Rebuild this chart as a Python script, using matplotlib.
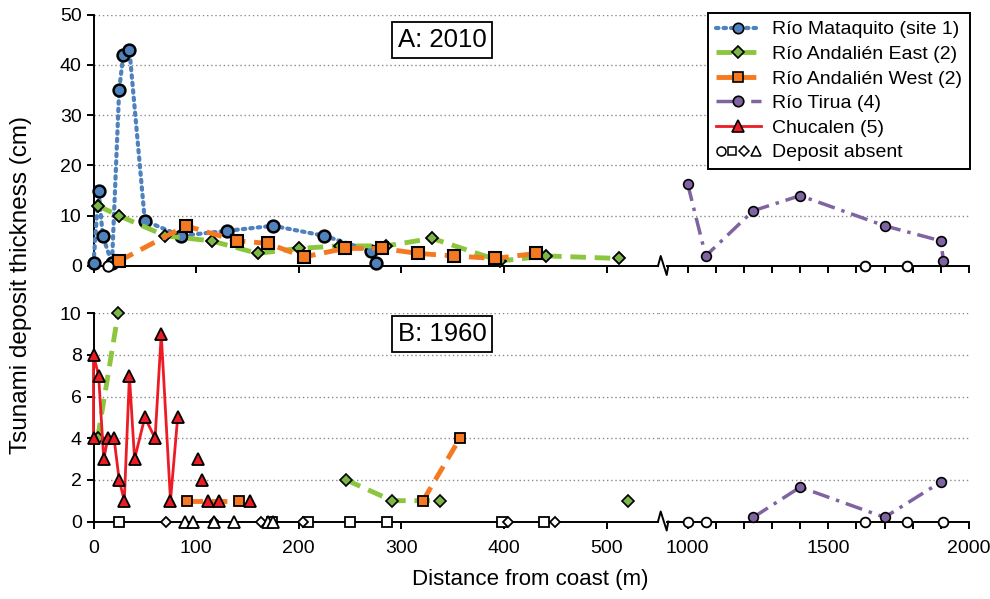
import matplotlib
matplotlib.use("Agg")
import matplotlib.pyplot as plt
from matplotlib.lines import Line2D
from matplotlib.legend_handler import HandlerTuple

plt.rcParams["font.family"] = ["Liberation Sans", "DejaVu Sans"]

# ---- 2010 (panel A) ----
mat_x = [0, 5, 9, 18, 25, 29, 35, 50, 85, 130, 175, 225, 270, 275]
mat_y = [0.5, 15, 6, 0.5, 35, 42, 43, 9, 6, 7, 8, 6, 3, 0.5]
east10_x = [4, 25, 70, 115, 160, 200, 240, 285, 330, 396, 441, 512]
east10_y = [12, 10, 6, 5, 2.5, 3.5, 4, 4, 5.5, 1, 2, 1.5]
west10_x = [25, 90, 140, 170, 205, 245, 281, 316, 351, 391, 431]
west10_y = [1, 8, 5, 4.5, 1.8, 3.5, 3.5, 2.5, 2, 1.5, 2.5]
tirua10_x = [1000, 1064, 1233, 1400, 1700, 1900, 1909]
tirua10_y = [16.3, 2, 11, 14, 8, 5, 1]
absent10_circ_left = [14]
absent10_circ_right = [1630, 1778]

# ---- 1960 (panel B) ----
chuc_x = [0, 0, 5, 10, 14, 20, 25, 30, 35, 40, 50, 60, 66, 75, 82]
chuc_y = [4, 8, 7, 3, 4, 4, 2, 1, 7, 3, 5, 4, 9, 1, 5]
chuc_pts_x = [102, 106, 112, 122, 152]
chuc_pts_y = [3, 2, 1, 1, 1]
east60_a_x, east60_a_y = [4, 24], [4, 10]
east60_b_x, east60_b_y = [246, 291, 338], [2, 1, 1]
east60_c_x, east60_c_y = [521], [1]
west60_a_x, west60_a_y = [91, 142], [1, 1]
west60_b_x, west60_b_y = [321, 357], [1, 4]
tirua60_x = [1233, 1400, 1700, 1900]
tirua60_y = [0.2, 1.65, 0.2, 1.9]
absent60_sq = [25, 174, 209, 250, 286, 398, 439]
absent60_dia = [71, 117, 163, 204, 404, 450]
absent60_tri = [89, 97, 117, 137, 170, 175]
absent60_circ_right = [1000, 1064, 1630, 1778, 1907]

BLUE = "#4F81BD"
GREEN_L = "#8CC63F"
GREEN_M = "#7AB648"
ORANGE = "#F47920"
PURPLE = "#8064A2"
RED = "#ED1C24"

W, H = 990, 599
fig = plt.figure(figsize=(W / 100, H / 100), dpi=100)


def fx(px):
    return px / W


def fy(py):
    return 1 - py / H


X0, XB, X1 = 93.5, 658.0, 969.0
panels = {"A": (14.7, 266.0), "B": (313.3, 521.5)}
axes = {}
for key, (top, bot) in panels.items():
    axl = fig.add_axes([fx(X0), fy(bot), fx(XB) - fx(X0), fy(top) - fy(bot)])
    axr = fig.add_axes([fx(XB), fy(bot), fx(X1) - fx(XB), fy(top) - fy(bot)])
    axes[key] = (axl, axr)

axA, axAr = axes["A"]
axB, axBr = axes["B"]

dotted_line = dict(ls=(0, (0.6, 1.2)), lw=3, dash_capstyle="round")
dash_line = dict(ls=(0, (3.2, 1.8)), lw=3.5)
dashdot_line = dict(ls=(0, (5, 2, 1, 2)), lw=2.5)
kw = dict(clip_on=False, zorder=3)

# panel A
axA.plot(mat_x, mat_y, color=BLUE, marker="o", ms=8.5, mfc=BLUE, mec="black",
         mew=1.8, **dotted_line, **kw)
axA.plot(east10_x, east10_y, color=GREEN_L, marker="D", ms=6.5, mfc=GREEN_M,
         mec="black", mew=1.3, **dash_line, **kw)
axA.plot(west10_x, west10_y, color=ORANGE, marker="s", ms=8, mfc=ORANGE,
         mec="black", mew=1.5, **dash_line, **kw)
axA.plot(absent10_circ_left, [0] * len(absent10_circ_left), ls="none", marker="o",
         ms=7.5, mfc="white", mec="black", mew=1.4, **kw)
axAr.plot(tirua10_x, tirua10_y, color=PURPLE, marker="o", ms=7, mfc=PURPLE,
          mec="black", mew=1.2, **dashdot_line, **kw)
axAr.plot(absent10_circ_right, [0] * len(absent10_circ_right), ls="none",
          marker="o", ms=7, mfc="white", mec="black", mew=1.4, **kw)

# panel B
axB.plot(east60_a_x, east60_a_y, color=GREEN_L, marker="D", ms=6, mfc=GREEN_M,
         mec="black", mew=1.2, **dash_line, **kw)
axB.plot(east60_b_x, east60_b_y, color=GREEN_L, marker="D", ms=6, mfc=GREEN_M,
         mec="black", mew=1.2, **dash_line, **kw)
axB.plot(east60_c_x, east60_c_y, ls="none", marker="D", ms=6, mfc=GREEN_M,
         mec="black", mew=1.2, **kw)
axB.plot(west60_a_x, west60_a_y, color=ORANGE, marker="s", ms=7, mfc=ORANGE,
         mec="black", mew=1.3, **dash_line, **kw)
axB.plot(west60_b_x, west60_b_y, color=ORANGE, marker="s", ms=7, mfc=ORANGE,
         mec="black", mew=1.3, **dash_line, **kw)
axB.plot(chuc_x, chuc_y, color=RED, lw=2, marker="^", ms=9, mfc=RED,
         mec="black", mew=1.3, **kw)
axB.plot(chuc_pts_x, chuc_pts_y, ls="none", marker="^", ms=9, mfc=RED,
         mec="black", mew=1.3, **kw)
absent = dict(ls="none", mfc="white", mec="black", mew=1.3, clip_on=False, zorder=4)
axB.plot(absent60_sq, [0] * len(absent60_sq), marker="s", ms=7, **absent)
axB.plot(absent60_dia, [0] * len(absent60_dia), marker="D", ms=5.5, **absent)
axB.plot(absent60_tri, [0] * len(absent60_tri), marker="^", ms=8, **absent)
axBr.plot(tirua60_x, tirua60_y, color=PURPLE, marker="o", ms=7, mfc=PURPLE,
          mec="black", mew=1.2, **dashdot_line, **kw)
axBr.plot(absent60_circ_right, [0] * len(absent60_circ_right), marker="o", ms=7,
          **absent)

# axes styling
x_left_max = (XB - X0) / 1.0264
x_right_min = 2000 - (X1 - XB) / 0.2813
for key, ylim, ystep in (("A", 50, 10), ("B", 10, 2)):
    axl, axr = axes[key]
    for ax in (axl, axr):
        ax.set_ylim(0, ylim)
        ax.set_yticks(range(0, ylim + 1, ystep))
        ax.yaxis.grid(True, ls=(0, (1, 2)), color="#8a8a8a", lw=1)
        ax.set_axisbelow(True)
        for s in ("top", "right"):
            ax.spines[s].set_visible(False)
        ax.spines["bottom"].set_linewidth(1.4)
        ax.spines["left"].set_linewidth(1.4)
        ax.tick_params(axis="both", which="both", direction="out", length=5,
                       width=1.4, labelsize=14, colors="black")
        ax.patch.set_alpha(0)
    axl.set_xlim(0, x_left_max)
    axl.set_xticks(range(0, 501, 100))
    axr.set_xlim(x_right_min, 2000)
    axr.spines["bottom"].set_bounds(927, 2000)
    axr.spines["left"].set_visible(False)
    axr.tick_params(axis="y", left=False, labelleft=False)
    axr.set_xticks([1000, 1500, 2000])
    axr.set_xticks(range(1100, 2000, 100), minor=True)
    if key == "A":
        axl.tick_params(axis="x", labelbottom=False)
        axr.tick_params(axis="x", labelbottom=False)
    else:
        axl.tick_params(axis="x", pad=8)
        axr.tick_params(axis="x", pad=8)

# break symbols on the x axes
for key, (top, bot) in panels.items():
    zx = [658.0, 660.7, 666.7, 668.3]
    zy = [bot, bot - 10, bot + 9, bot]
    fig.add_artist(Line2D([fx(v) for v in zx], [fy(v) for v in zy],
                          transform=fig.transFigure, color="black", lw=1.4))

# panel titles
box = dict(boxstyle="square,pad=0.22", fc="white", ec="black", lw=1.3)
fig.text(fx(442), fy(40), "A: 2010", ha="center", va="center", fontsize=18.5, bbox=box)
fig.text(fx(442), fy(334), "B: 1960", ha="center", va="center", fontsize=18.5, bbox=box)

fig.text(fx(21), fy(285), "Tsunami deposit thickness (cm)", rotation=90,
         ha="center", va="center", fontsize=17.5)
fig.text(fx(530), fy(580), "Distance from coast (m)", ha="center", va="center",
         fontsize=16)

# legend
h_mat = Line2D([], [], color=BLUE, marker="o", ms=7.5, mfc=BLUE, mec="black",
               mew=1.2, **dotted_line)
h_east = Line2D([], [], color=GREEN_L, marker="D", ms=6, mfc=GREEN_M,
                mec="black", mew=1.2, **dash_line)
h_west = Line2D([], [], color=ORANGE, marker="s", ms=7, mfc=ORANGE,
                mec="black", mew=1.2, **dash_line)
h_tir = Line2D([], [], color=PURPLE, marker="o", ms=7.5, mfc=PURPLE, mec="black",
               mew=1.2, **dashdot_line)
h_chu = Line2D([], [], color=RED, lw=2, marker="^", ms=8.5, mfc=RED, mec="black",
               mew=1.2)
ab = dict(ls="none", mfc="white", mec="black", mew=1.1)
h_abs = (Line2D([], [], marker="o", ms=6.5, **ab), Line2D([], [], marker="s", ms=6, **ab),
         Line2D([], [], marker="D", ms=4.8, **ab), Line2D([], [], marker="^", ms=7, **ab))
leg = fig.legend([h_mat, h_east, h_west, h_tir, h_chu, h_abs],
                 ["Río Mataquito (site 1)", "Río Andalién East (2)",
                  "Río Andalién West (2)", "Río Tirua (4)", "Chucalen (5)",
                  "Deposit absent"],
                 handler_map={tuple: HandlerTuple(ndivide=None, pad=0.1)},
                 loc="upper right", bbox_to_anchor=(fx(970), fy(13)),
                 fontsize=14, fancybox=False, framealpha=1, edgecolor="black",
                 handlelength=2.3, handletextpad=0.6, labelspacing=0.36,
                 borderpad=0.4, borderaxespad=0)
leg.get_frame().set_linewidth(1.4)

fig.savefig("out.png", dpi=100)
